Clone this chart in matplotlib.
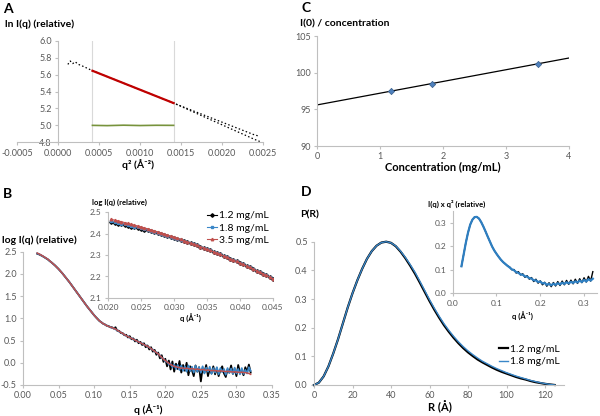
import numpy as np
import matplotlib
matplotlib.use('Agg')
import matplotlib.pyplot as plt
from matplotlib.ticker import FormatStrFormatter

plt.rcParams['font.family'] = ['Lato', 'DejaVu Sans']

W, H = 600, 416
AXIS_GREY = '#bfbfbf'
TEXT_GREY = '#595959'
BLUE = '#3a87c8'
RED = '#c0504d'

# ---- A: Guinier plot
q2_a = [0.00012, 0.00015, 0.00018, 0.00021, 0.00025, 0.0003, 0.0004, 0.0005, 0.0006, 0.0007,
        0.0008, 0.0009, 0.0010, 0.0011, 0.0012, 0.0013, 0.0014, 0.0015, 0.0016, 0.0017,
        0.0018, 0.0019, 0.0020, 0.0021, 0.0022, 0.0023, 0.0024, 0.00246]
ln_a = [5.72, 5.76, 5.73, 5.75, 5.72, 5.70, 5.655, 5.615, 5.576, 5.537,
        5.498, 5.460, 5.421, 5.383, 5.344, 5.305, 5.267, 5.228, 5.19, 5.152,
        5.114, 5.076, 5.038, 5.0, 4.962, 4.924, 4.886, 4.872]
q2_b = [0.0014, 0.0015, 0.0016, 0.0017, 0.0018, 0.0019, 0.0020, 0.0021, 0.0022, 0.0023, 0.0024, 0.00246]
ln_b = [5.267, 5.225, 5.18, 5.137, 5.093, 5.05, 5.007, 4.963, 4.92, 4.877, 4.833, 4.81]
guinier_range = [0.00042, 0.00141]
fit_ln = [5.645, 5.263]
resid_q2 = [0.00042, 0.0006, 0.0008, 0.0010, 0.0012, 0.00141]
resid_ln = [5.0, 4.997, 5.002, 4.998, 5.001, 5.0]

# ---- B: scattering curves (log I vs q), step 0.0025 from 0.02
b_red = [2.47, 2.45, 2.43, 2.405, 2.38, 2.355, 2.33, 2.295, 2.26, 2.225,
         2.19, 2.15, 2.11, 2.065, 2.02, 1.97, 1.92, 1.87, 1.82, 1.765,
         1.71, 1.655, 1.60, 1.545, 1.49, 1.435, 1.38, 1.325, 1.27, 1.22,
         1.17, 1.12, 1.07, 1.025, 0.98, 0.945, 0.91, 0.885, 0.86, 0.84,
         0.82, 0.805, 0.79, 0.775, 0.76, 0.735, 0.71, 0.685, 0.66, 0.635,
         0.61, 0.59, 0.57, 0.55, 0.53, 0.51, 0.49, 0.47, 0.45, 0.43,
         0.41, 0.39, 0.37, 0.345, 0.32, 0.29, 0.26, 0.23, 0.20, 0.16,
         0.12, 0.08, 0.05, 0.02, -0.01, -0.04, -0.06, -0.08, -0.09, -0.10,
         -0.11, -0.12, -0.12, -0.13, -0.12, -0.13, -0.14, -0.13, -0.14, -0.15,
         -0.14, -0.15, -0.16, -0.15, -0.16, -0.17, -0.16, -0.17, -0.18, -0.17,
         -0.18, -0.18, -0.19, -0.18, -0.19, -0.19, -0.20, -0.19, -0.20, -0.20,
         -0.21, -0.20, -0.21, -0.21, -0.22, -0.21, -0.22, -0.22, -0.23, -0.24,
         -0.26]
b_black = [2.455, 2.44, 2.42, 2.40, 2.375, 2.35, 2.325, 2.29, 2.26, 2.225,
           2.19, 2.15, 2.11, 2.065, 2.02, 1.97, 1.92, 1.87, 1.82, 1.765,
           1.71, 1.655, 1.60, 1.545, 1.49, 1.435, 1.38, 1.325, 1.27, 1.22,
           1.17, 1.12, 1.07, 1.025, 0.985, 0.94, 0.915, 0.88, 0.865, 0.835,
           0.83, 0.80, 0.80, 0.77, 0.80, 0.72, 0.72, 0.67, 0.67, 0.62,
           0.63, 0.57, 0.60, 0.53, 0.55, 0.48, 0.52, 0.44, 0.47, 0.40,
           0.44, 0.35, 0.39, 0.30, 0.35, 0.25, 0.29, 0.18, 0.23, 0.10,
           0.17, 0.02, 0.09, -0.08, 0.05, -0.15, 0.03, -0.20, -0.02, -0.14,
           0.04, -0.22, -0.05, -0.18, 0.00, -0.28, -0.08, -0.17, -0.30, -0.06,
           -0.20, -0.10, -0.42, -0.12, -0.22, -0.05, -0.30, -0.14, -0.24, -0.08,
           -0.26, -0.12, -0.30, -0.16, -0.08, -0.24, -0.32, -0.15, -0.22, -0.06,
           -0.25, -0.14, -0.30, -0.05, -0.22, -0.18, -0.28, -0.10, -0.20, -0.04,
           -0.22]
b_blue = [2.46, 2.445, 2.425, 2.40, 2.378, 2.352, 2.328, 2.292, 2.26, 2.225,
          2.19, 2.15, 2.11, 2.065, 2.02, 1.97, 1.92, 1.87, 1.82, 1.765,
          1.71, 1.655, 1.60, 1.545, 1.49, 1.435, 1.38, 1.325, 1.27, 1.22,
          1.17, 1.12, 1.07, 1.025, 0.98, 0.945, 0.91, 0.885, 0.86, 0.84,
          0.82, 0.81, 0.78, 0.78, 0.75, 0.74, 0.70, 0.69, 0.65, 0.64,
          0.60, 0.60, 0.56, 0.56, 0.52, 0.52, 0.48, 0.48, 0.44, 0.44,
          0.40, 0.40, 0.36, 0.35, 0.31, 0.30, 0.25, 0.24, 0.19, 0.17,
          0.11, 0.09, 0.03, 0.03, -0.04, -0.02, -0.10, -0.04, -0.14, -0.05,
          -0.16, -0.06, -0.18, -0.08, -0.20, -0.06, -0.19, -0.09, -0.22, -0.07,
          -0.20, -0.10, -0.22, -0.08, -0.24, -0.11, -0.20, -0.09, -0.25, -0.12,
          -0.22, -0.10, -0.26, -0.12, -0.21, -0.14, -0.27, -0.12, -0.23, -0.13,
          -0.25, -0.11, -0.24, -0.14, -0.26, -0.12, -0.25, -0.16, -0.24, -0.10,
          -0.18]

# inset B, step 0.0005 from 0.0205
in_red = [2.466, 2.462, 2.459, 2.455, 2.451, 2.447, 2.443, 2.439, 2.435, 2.431,
          2.426, 2.422, 2.417, 2.413, 2.408, 2.403, 2.398, 2.393, 2.388, 2.383,
          2.378, 2.373, 2.367, 2.362, 2.356, 2.351, 2.345, 2.339, 2.333, 2.327,
          2.321, 2.315, 2.309, 2.303, 2.296, 2.290, 2.283, 2.276, 2.270, 2.263,
          2.256, 2.249, 2.242, 2.235, 2.227, 2.220, 2.213, 2.205, 2.197, 2.190]
in_black = [2.452, 2.449, 2.446, 2.443, 2.439, 2.436, 2.432, 2.429, 2.425, 2.422,
            2.418, 2.414, 2.410, 2.406, 2.402, 2.397, 2.393, 2.388, 2.384, 2.380,
            2.375, 2.371, 2.365, 2.361, 2.355] + in_red[25:]
in_blue = [2.456, 2.452, 2.450, 2.446, 2.443, 2.439, 2.435, 2.432, 2.428, 2.425,
           2.420, 2.417, 2.412, 2.409, 2.404, 2.399, 2.395, 2.390, 2.385, 2.381,
           2.376, 2.372, 2.366, 2.361, 2.356] + in_red[25:]
conc_labels = ['1.2 mg/mL', '1.8 mg/mL', '3.5 mg/mL']

# ---- C: I(0)/c vs concentration
conc = [1.17, 1.83, 3.5]
i0_per_c = [97.45, 98.4, 101.2]
trend_x = [0, 4]
trend_y = [95.6, 102.0]

# ---- D: P(R), step 2.5 A
pr_blue = [0, 0.008, 0.03, 0.065, 0.11, 0.16, 0.215, 0.27, 0.32, 0.365,
           0.405, 0.44, 0.467, 0.486, 0.497, 0.500, 0.496, 0.485, 0.467, 0.445,
           0.42, 0.393, 0.362, 0.330, 0.298, 0.268, 0.240, 0.214, 0.191, 0.170,
           0.151, 0.134, 0.119, 0.106, 0.094, 0.083, 0.074, 0.065, 0.057, 0.050,
           0.043, 0.037, 0.031, 0.026, 0.021, 0.016, 0.012, 0.008, 0.005, 0.002,
           0.000]
pr_black = [0, 0.008, 0.03, 0.065, 0.11, 0.16, 0.215, 0.27, 0.32, 0.365,
            0.405, 0.44, 0.467, 0.486, 0.497, 0.500, 0.496, 0.484, 0.465, 0.442,
            0.416, 0.388, 0.357, 0.325, 0.293, 0.263, 0.235, 0.209, 0.186, 0.165,
            0.146, 0.129, 0.114, 0.101, 0.089, 0.079, 0.070, 0.061, 0.053, 0.046,
            0.040, 0.034, 0.028, 0.023, 0.019, 0.014, 0.010, 0.007, 0.004, 0.002,
            0.000]

# inset D: Kratky, step 0.005 from 0.02
kr_blue = [0.115, 0.165, 0.215, 0.258, 0.292, 0.313, 0.324, 0.325, 0.318, 0.303,
           0.284, 0.263, 0.241, 0.220, 0.199, 0.182, 0.168, 0.155, 0.143, 0.133,
           0.125, 0.117, 0.110, 0.102, 0.098, 0.090, 0.087, 0.080, 0.079, 0.072,
           0.071, 0.064, 0.063, 0.055, 0.055, 0.048, 0.050, 0.042, 0.044, 0.036,
           0.040, 0.034, 0.041, 0.036, 0.043, 0.038, 0.045, 0.040, 0.047, 0.042,
           0.049, 0.044, 0.051, 0.046, 0.054, 0.048, 0.057, 0.050, 0.060, 0.054,
           0.062]
kr_black = [0.115, 0.165, 0.215, 0.258, 0.292, 0.313, 0.324, 0.325, 0.318, 0.303,
            0.284, 0.263, 0.241, 0.220, 0.199, 0.182, 0.168, 0.155, 0.143, 0.133,
            0.125, 0.117, 0.112, 0.100, 0.101, 0.086, 0.092, 0.078, 0.083, 0.068,
            0.075, 0.060, 0.067, 0.050, 0.060, 0.043, 0.053, 0.036, 0.047, 0.030,
            0.045, 0.028, 0.046, 0.031, 0.050, 0.033, 0.052, 0.036, 0.055, 0.038,
            0.056, 0.040, 0.060, 0.042, 0.062, 0.045, 0.066, 0.048, 0.072, 0.052,
            0.092]


def add_axes_px(fig, left, top, right, bottom):
    return fig.add_axes([left / W, 1 - bottom / H, (right - left) / W, (bottom - top) / H])


def excel_style(ax, size=6.5):
    for s in ['top', 'right']:
        ax.spines[s].set_visible(False)
    for s in ['left', 'bottom']:
        ax.spines[s].set_color(AXIS_GREY)
        ax.spines[s].set_linewidth(0.8)
    ax.tick_params(colors=AXIS_GREY, labelcolor=TEXT_GREY, labelsize=size, length=2.5, width=0.8, pad=2)
    ax.patch.set_alpha(0)


def label(fig, x, y, s, size=7, ha='left', bold=True):
    fig.text(x / W, 1 - y / H, s, fontsize=size, ha=ha, va='center',
             fontweight='bold' if bold else 'normal', color='black')


fig = plt.figure(figsize=(W / 100, H / 100), dpi=100)

# ---------- A
ax = add_axes_px(fig, 17, 40.7, 263, 142.3)
excel_style(ax)
ax.spines['left'].set_position(('data', 0))
for xv in guinier_range:
    ax.axvline(xv, color='#d9d9d9', lw=0.8)
ax.plot(q2_a, ln_a, color='k', lw=0.9, ls=(0, (1.2, 1.8)))
ax.plot(q2_b, ln_b, color='k', lw=0.9, ls=(0, (1.2, 1.8)))
ax.plot(guinier_range, fit_ln, color='#c00000', lw=1.6)
ax.plot(resid_q2, resid_ln, color='#77933c', lw=1.2)
ax.set_xlim(-0.0005, 0.0025)
ax.set_ylim(4.8, 6.0)
ax.set_xticks(np.arange(-0.0005, 0.00251, 0.0005))
ax.set_yticks(np.arange(4.8, 6.01, 0.2))
ax.xaxis.set_major_formatter(FormatStrFormatter('%.4f'))
ax.yaxis.set_major_formatter(FormatStrFormatter('%.1f'))
label(fig, 3, 9, 'A', size=10)
label(fig, 5, 24, 'ln I(q) (relative)', size=7.5)
label(fig, 138, 165, 'q² (Å⁻²)', size=7.5, ha='center')

# ---------- B main
q_b = 0.02 + 0.0025 * np.arange(len(b_red))
ax = add_axes_px(fig, 23, 251.7, 272, 385)
excel_style(ax)
ax.plot(q_b, b_black, color='k', lw=1.3)
ax.plot(q_b, b_blue, color=BLUE, lw=1.3)
ax.plot(q_b, b_red, color=RED, lw=1.1)
ax.set_xlim(0, 0.35)
ax.set_ylim(-0.5, 2.5)
ax.set_xticks(np.arange(0, 0.351, 0.05))
ax.set_yticks(np.arange(-0.5, 2.51, 0.5))
ax.xaxis.set_major_formatter(FormatStrFormatter('%.2f'))
ax.yaxis.set_major_formatter(FormatStrFormatter('%.1f'))
label(fig, 3, 194, 'B', size=10)
label(fig, 2, 240, 'log I(q) (relative)', size=7.5)
label(fig, 148, 410, 'q (Å⁻¹)', size=7.5, ha='center')

# ---------- B inset
q_in = 0.0205 + 0.0005 * np.arange(len(in_red))
ax = add_axes_px(fig, 108, 212, 273, 298)
excel_style(ax, size=6)
ax.plot(q_in, in_black, color='k', lw=0.8, marker='D', ms=1.8, label=conc_labels[0])
ax.plot(q_in, in_blue, color=BLUE, lw=0.8, marker='s', ms=1.8, label=conc_labels[1])
ax.plot(q_in, in_red, color=RED, lw=0.8, marker='^', ms=1.8, label=conc_labels[2])
ax.set_xlim(0.02, 0.045)
ax.set_ylim(2.1, 2.5)
ax.set_xticks(np.arange(0.02, 0.0451, 0.005))
ax.set_yticks(np.arange(2.1, 2.51, 0.1))
ax.xaxis.set_major_formatter(FormatStrFormatter('%.3f'))
ax.yaxis.set_major_formatter(FormatStrFormatter('%.1f'))
ax.legend(loc='upper right', bbox_to_anchor=(1.0, 1.06), frameon=False, fontsize=7.5,
          handlelength=1.0, handletextpad=0.2, labelspacing=0.3, borderaxespad=0)
label(fig, 92, 202, 'log I(q) (relative)', size=5.5)
label(fig, 190, 318, 'q (Å⁻¹)', size=5.5, ha='center')

# ---------- C
ax = add_axes_px(fig, 317, 36, 569, 146)
excel_style(ax)
ax.plot(trend_x, trend_y, color='k', lw=0.9)
ax.plot(conc, i0_per_c, ls='none', marker='D', ms=3.2, color='#4f81bd', mec='#385d8a', mew=0.5)
ax.set_xlim(0, 4)
ax.set_ylim(90, 105)
ax.set_xticks(range(0, 5))
ax.set_yticks(range(90, 106, 5))
label(fig, 301, 8, 'C', size=10)
label(fig, 300, 24, 'I(0) / concentration', size=7.5)
label(fig, 443, 167, 'Concentration (mg/mL)', size=8, ha='center')

# ---------- D main
r = 2.5 * np.arange(len(pr_blue))
ax = add_axes_px(fig, 314, 241.7, 314 + 130 * 1.925, 385)
excel_style(ax)
ax.plot(r, pr_black, color='k', lw=1.6, label=conc_labels[0], clip_on=False)
ax.plot(r, pr_blue, color=BLUE, lw=1.0, label=conc_labels[1], clip_on=False)
ax.set_xlim(0, 130)
ax.set_ylim(0, 0.5)
ax.set_xticks(range(0, 121, 20))
ax.set_yticks(np.arange(0, 0.51, 0.1))
ax.yaxis.set_major_formatter(FormatStrFormatter('%.1f'))
ax.legend(loc='upper right', bbox_to_anchor=(1.0, 0.31), frameon=False, fontsize=7.5,
          handlelength=0.9, handletextpad=0.2, labelspacing=0.3, borderaxespad=0)
label(fig, 301, 192, 'D', size=10)
label(fig, 300, 215, 'P(R)', size=7.5)
label(fig, 440, 407, 'R (Å)', size=8, ha='center')

# ---------- D inset
q_k = 0.02 + 0.005 * np.arange(len(kr_blue))
ax = add_axes_px(fig, 452.7, 211, 597.2, 293.3)
excel_style(ax, size=6)
ax.plot(q_k, kr_black, color='k', lw=1.0)
ax.plot(q_k, kr_blue, color='#2e7fc2', lw=1.6)
ax.set_xlim(0, 0.33)
ax.set_ylim(0, 0.35)
ax.set_xticks([0, 0.1, 0.2, 0.3])
ax.set_yticks([0, 0.1, 0.2, 0.3])
ax.xaxis.set_major_formatter(FormatStrFormatter('%.1f'))
ax.yaxis.set_major_formatter(FormatStrFormatter('%.1f'))
label(fig, 428, 204, 'I(q) x q² (relative)', size=5.5)
label(fig, 522, 316, 'q (Å⁻¹)', size=5.5, ha='center')

fig.savefig('out.png', dpi=100, facecolor='white')
